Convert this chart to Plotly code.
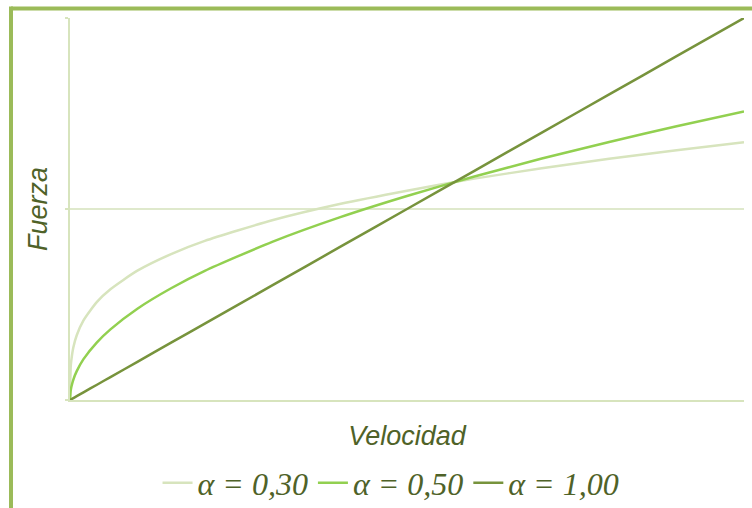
import plotly.graph_objects as go

velocidad = [0, 0.001, 0.002, 0.005, 0.01, 0.02, 0.04, 0.06, 0.1, 0.15, 0.2, 0.3, 0.4, 0.5, 0.6, 0.7, 0.8, 0.9, 1.0]
fuerza_030 = [0, 0.170, 0.209, 0.276, 0.339, 0.417, 0.514, 0.580, 0.677, 0.764, 0.833, 0.941, 1.026, 1.096, 1.159, 1.213, 1.263, 1.308, 1.350]
fuerza_050 = [0, 0.048, 0.068, 0.107, 0.151, 0.214, 0.302, 0.370, 0.478, 0.585, 0.676, 0.828, 0.956, 1.068, 1.170, 1.264, 1.351, 1.433, 1.511]
fuerza_100 = [0, 0.002, 0.004, 0.010, 0.020, 0.040, 0.080, 0.120, 0.200, 0.300, 0.400, 0.600, 0.800, 1.000, 1.200, 1.400, 1.600, 1.800, 2.000]
labels = ["α = 0,30", "α = 0,50", "α = 1,00"]
colors = ["#d7e4bd", "#92d050", "#77933c"]

fig = go.Figure()
for ys, name, col in zip([fuerza_030, fuerza_050, fuerza_100], labels, colors):
    fig.add_trace(go.Scatter(x=velocidad, y=ys, mode="lines", name=name,
                             line=dict(color=col, width=2.5, shape="spline", smoothing=0.6)))

text_col = "#4f6228"
fig.update_layout(
    width=752, height=508,
    margin=dict(l=70, r=8, t=18, b=108),
    plot_bgcolor="white", paper_bgcolor="white",
    showlegend=True,
    legend=dict(orientation="h", x=0.52, xref="container", xanchor="center",
                y=25/508, yref="container", yanchor="middle",
                font=dict(family="Liberation Serif", size=32, color=text_col, style="italic"),
                itemwidth=30, tracegroupgap=0, itemclick=False),
    xaxis=dict(range=[0, 1], dtick=1, showticklabels=False, showgrid=True,
               gridcolor="#ebf1de", gridwidth=2, zeroline=False,
               showline=True, linecolor="#d7e4bd", linewidth=2,
               title=dict(text="Velocidad", standoff=25,
                          font=dict(family="Liberation Sans", size=27, color=text_col, style="italic"))),
    yaxis=dict(range=[0, 2], dtick=1, showticklabels=False, showgrid=True,
               gridcolor="#dfe9cc", gridwidth=1.5, zeroline=False,
               showline=True, linecolor="#d7e4bd", linewidth=2,
               ticks="outside", ticklen=3, tickcolor="#d7e4bd", tickwidth=2,
               title=dict(text="Fuerza", standoff=10,
                          font=dict(family="Liberation Sans", size=27, color=text_col, style="italic"))),
)

# outer green frame (top and left edges)
frame_col = "#9bbb59"
fig.add_shape(type="line", xref="paper", yref="paper", x0=-59/674, x1=682/674,
              y0=391.5/382, y1=391.5/382, line=dict(color=frame_col, width=4))
fig.add_shape(type="line", xref="paper", yref="paper", x0=-59/674, x1=-59/674,
              y0=393.5/382, y1=-110/382, line=dict(color=frame_col, width=4))

fig.write_html("out.html")
